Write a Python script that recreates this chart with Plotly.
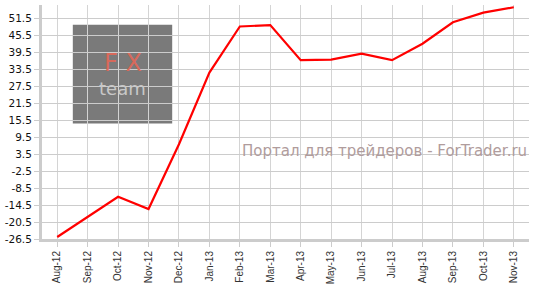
import plotly.graph_objects as go

months = ["Aug-12", "Sep-12", "Oct-12", "Nov-12", "Dec-12", "Jan-13", "Feb-13", "Mar-13",
          "Apr-13", "May-13", "Jun-13", "Jul-13", "Aug-13", "Sep-13", "Oct-13", "Nov-13"]
values = [-25.8, -18.7, -11.6, -15.9, 7.0, 32.3, 48.6, 49.1,
          36.7, 36.9, 39.0, 36.7, 42.5, 50.1, 53.5, 55.4]
y_ticks = [51.5, 45.5, 39.5, 33.5, 27.5, 21.5, 15.5, 9.5, 3.5, -2.5, -8.5, -14.5, -20.5, -26.5]

fig = go.Figure()
fig.add_trace(go.Scatter(x=list(range(len(months))), y=values, mode="lines",
                         line=dict(color="#ff0000", width=2.2), hoverinfo="skip"))

fig.update_layout(
    width=537, height=289,
    margin=dict(l=39, r=8, t=5, b=47),
    paper_bgcolor="white", plot_bgcolor="white",
    showlegend=False,
    xaxis=dict(
        range=[-0.5, 15.5], tickmode="array",
        tickvals=list(range(len(months))), ticktext=months,
        tickangle=-90, tickfont=dict(family="Liberation Sans, Arial", size=10, color="#333"),
        showgrid=True, gridcolor="#d4d4d4", gridwidth=1,
        showline=True, linecolor="#cccccc", linewidth=3,
        ticks="outside", ticklen=5, tickcolor="#cccccc", zeroline=False,
    ),
    yaxis=dict(
        range=[-26.5, 56.2], tickmode="array", tickvals=y_ticks,
        ticktext=[f"{v:.1f}" for v in y_ticks],
        tickfont=dict(family="DejaVu Sans, Verdana", size=10.5, color="#111"),
        showgrid=True, gridcolor="#cccccc", gridwidth=1,
        showline=True, linecolor="#cccccc", linewidth=3,
        ticks="outside", ticklen=5, tickcolor="#cccccc", zeroline=False,
    ),
    shapes=[dict(type="rect", xref="paper", yref="paper",
                 x0=(70 - 39) / 490, x1=(170 - 39) / 490,
                 y0=(242 - 125) / 237, y1=(242 - 25) / 237,
                 fillcolor="#7a7a7a", line=dict(width=0), layer="below")],
    annotations=[
        dict(text="F X", xref="paper", yref="paper",
             x=(120 - 39) / 490, y=(242 - 64) / 237, xanchor="center", yanchor="middle",
             showarrow=False, font=dict(family="DejaVu Sans ExtraLight, DejaVu Sans", size=24, color="#d8695a")),
        dict(text="team", xref="paper", yref="paper",
             x=(120 - 39) / 490, y=(242 - 90) / 237, xanchor="center", yanchor="middle",
             showarrow=False, font=dict(family="DejaVu Sans ExtraLight, DejaVu Sans", size=18, color="#c8c8c8")),
        dict(text="Портал для трейдеров - ForTrader.ru", xref="paper", yref="paper",
             x=(529 - 39) / 490, y=(242 - 153) / 237, xanchor="right", yanchor="middle",
             showarrow=False, font=dict(family="DejaVu Sans", size=15, color="#b09c9c")),
    ],
)

fig.write_html("out.html")
